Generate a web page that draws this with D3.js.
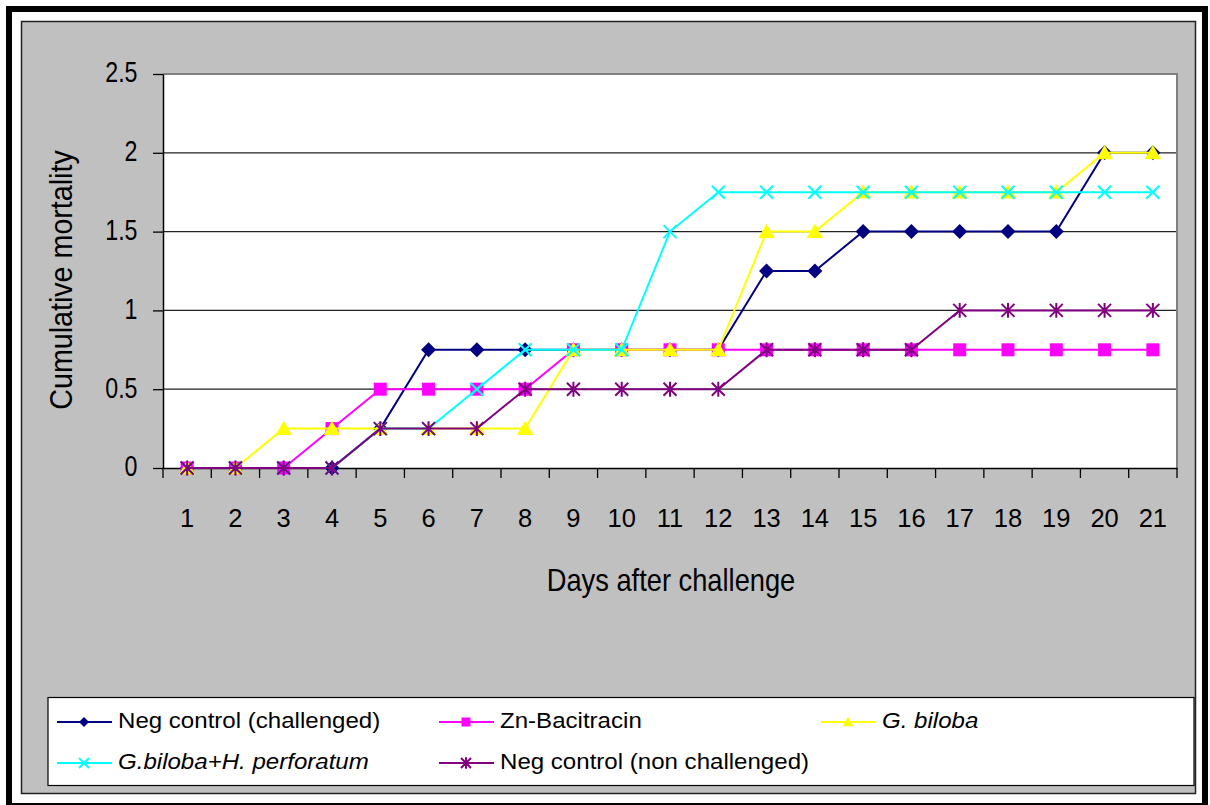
<!DOCTYPE html>
<html>
  <head>
    <title>Cumulative mortality</title>
    <meta charset="UTF-8">
    <script src="https://cdnjs.cloudflare.com/ajax/libs/d3/7.8.5/d3.min.js"></script>
  </head>
  <style type="text/css">
    body {
      margin: 0px;
      overflow: hidden;
      background: #fff;
    }
    text {
      font-family: "Liberation Sans", Arial, sans-serif;
      fill: #000;
    }
  </style>
  <body>
    <div id="chart"></div>
    <script>
      // values
      const days = [1, 2, 3, 4, 5, 6, 7, 8, 9, 10, 11, 12, 13, 14, 15, 16, 17, 18, 19, 20, 21];
      const negChallenged    = [0, 0, 0, 0, 0.25, 0.75, 0.75, 0.75, 0.75, 0.75, 0.75, 0.75, 1.25, 1.25, 1.5, 1.5, 1.5, 1.5, 1.5, 2, 2];
      const znBacitracin     = [0, 0, 0, 0.25, 0.5, 0.5, 0.5, 0.5, 0.75, 0.75, 0.75, 0.75, 0.75, 0.75, 0.75, 0.75, 0.75, 0.75, 0.75, 0.75, 0.75];
      const gBiloba          = [0, 0, 0.25, 0.25, 0.25, 0.25, 0.25, 0.25, 0.75, 0.75, 0.75, 0.75, 1.5, 1.5, 1.75, 1.75, 1.75, 1.75, 1.75, 2, 2];
      const gBilobaHPerf     = [0, 0, 0, 0, 0.25, 0.25, 0.5, 0.75, 0.75, 0.75, 1.5, 1.75, 1.75, 1.75, 1.75, 1.75, 1.75, 1.75, 1.75, 1.75, 1.75];
      const negNonChallenged = [0, 0, 0, 0, 0.25, 0.25, 0.25, 0.5, 0.5, 0.5, 0.5, 0.5, 0.75, 0.75, 0.75, 0.75, 1, 1, 1, 1, 1];
      const yTicks = [0, 0.5, 1, 1.5, 2, 2.5];
      const yTickLabels = ["0", "0.5", "1", "1.5", "2", "2.5"];
      const seriesNames = ["Neg control (challenged)", "Zn-Bacitracin", "G. biloba", "G.biloba+H. perforatum", "Neg control (non challenged)"];

      const series = [
        {name: seriesNames[0], values: negChallenged, color: "#000080", marker: "diamond", italic: false},
        {name: seriesNames[1], values: znBacitracin, color: "#FF00FF", marker: "square", italic: false},
        {name: seriesNames[2], values: gBiloba, color: "#FFFF00", marker: "triangle", italic: true},
        {name: seriesNames[3], values: gBilobaHPerf, color: "#00FFFF", marker: "cross", italic: true},
        {name: seriesNames[4], values: negNonChallenged, color: "#800080", marker: "star", italic: false}
      ];

      const width = 1210, height = 805;
      const plot = {left: 163, right: 1177, top: 74, bottom: 468};

      const svg = d3.select("#chart").append("svg")
        .attr("width", width)
        .attr("height", height);

      // frames
      svg.append("rect").attr("x", 9).attr("y", 9).attr("width", 1196).attr("height", 797)
        .attr("fill", "#fff").attr("stroke", "#000").attr("stroke-width", 6);
      svg.append("rect").attr("x", 21.5).attr("y", 21.5).attr("width", 1174).attr("height", 772)
        .attr("fill", "#C0C0C0").attr("stroke", "#222").attr("stroke-width", 1.5);

      const x = d3.scaleBand().domain(days).range([plot.left, plot.right]);
      const y = d3.scaleLinear().domain([0, 2.5]).range([plot.bottom, plot.top]);
      const cx = d => x(d) + x.bandwidth() / 2;

      svg.append("rect")
        .attr("x", plot.left).attr("y", plot.top)
        .attr("width", plot.right - plot.left).attr("height", plot.bottom - plot.top)
        .attr("fill", "#fff");

      // gridlines
      svg.append("g").selectAll("line")
        .data(yTicks.filter(t => t > 0 && t < 2.5))
        .enter().append("line")
        .attr("x1", plot.left).attr("x2", plot.right)
        .attr("y1", d => y(d)).attr("y2", d => y(d))
        .attr("stroke", "#222").attr("stroke-width", 1.3);

      // gray top / right border of the plot area
      svg.append("path")
        .attr("d", `M${plot.left},${y(2.5)}H${plot.right}V${plot.bottom}`)
        .attr("fill", "none").attr("stroke", "#808080").attr("stroke-width", 2);

      // y axis
      const yAxis = svg.append("g")
        .attr("transform", `translate(${plot.left},0)`)
        .call(d3.axisLeft(y).tickValues(yTicks).tickSize(10).tickSizeOuter(0)
          .tickFormat((d, i) => yTickLabels[i]));
      yAxis.selectAll("line").attr("stroke", "#000").attr("stroke-width", 1.3);
      yAxis.select(".domain").attr("stroke", "#000").attr("stroke-width", 1.5);
      yAxis.selectAll("text")
        .attr("x", 0).attr("dy", "0.27em")
        .attr("transform", "translate(-25.5,0) scale(0.8,1)")
        .style("font-size", "29px");

      // x axis
      const xAxis = svg.append("g")
        .attr("transform", `translate(0,${plot.bottom})`)
        .call(d3.axisBottom(x).tickSize(0).tickSizeOuter(0));
      xAxis.select(".domain").attr("stroke", "#000").attr("stroke-width", 1.5);
      xAxis.selectAll("text")
        .attr("y", 58.5).attr("dy", 0)
        .style("font-size", "25.5px");
      xAxis.append("g").selectAll("line")
        .data(days.map(d => x(d)).concat([x.range()[1]]))
        .enter().append("line")
        .attr("x1", d => d).attr("x2", d => d)
        .attr("y1", 0).attr("y2", 10)
        .attr("stroke", "#000").attr("stroke-width", 1.3);

      // axis titles
      svg.append("text")
        .attr("transform", "translate(671,590.5) scale(0.88,1)")
        .attr("text-anchor", "middle")
        .style("font-size", "31px")
        .text("Days after challenge");
      svg.append("text")
        .attr("transform", "translate(71.5,280) rotate(-90) scale(0.94,1)")
        .attr("text-anchor", "middle")
        .style("font-size", "30.5px")
        .text("Cumulative mortality");

      // marker shapes
      function marker(g, type, s, color) {
        if (type === "diamond") {
          g.append("path").attr("d", `M0,${-s}L${s},0L0,${s}L${-s},0Z`).attr("fill", color);
        } else if (type === "square") {
          g.append("rect").attr("x", -s).attr("y", -s).attr("width", 2 * s).attr("height", 2 * s).attr("fill", color);
        } else if (type === "triangle") {
          g.append("path").attr("d", `M0,${-s * 1.05}L${s * 1.1},${s * 0.85}L${-s * 1.1},${s * 0.85}Z`).attr("fill", color);
        } else if (type === "cross") {
          g.append("path").attr("d", `M${-s},${-s}L${s},${s}M${-s},${s}L${s},${-s}`)
            .attr("stroke", color).attr("stroke-width", 2).attr("fill", "none");
        } else if (type === "star") {
          g.append("path").attr("d", `M${-s},${-s}L${s},${s}M${-s},${s}L${s},${-s}M0,${-s * 1.15}V${s * 1.15}`)
            .attr("stroke", color).attr("stroke-width", 2).attr("fill", "none");
        }
      }
      const markerSize = {diamond: 7.5, square: 6.5, triangle: 7.5, cross: 6.5, star: 6.5};
      const legendSize = {diamond: 5, square: 4.5, triangle: 5, cross: 5, star: 5};

      // series
      const line = d3.line().x((v, i) => cx(days[i])).y(v => y(v));
      series.forEach(s => {
        const g = svg.append("g");
        g.append("path")
          .attr("d", line(s.values))
          .attr("fill", "none").attr("stroke", s.color).attr("stroke-width", 2);
        s.values.forEach((v, i) => {
          const m = g.append("g").attr("transform", `translate(${cx(days[i])},${y(v)})`);
          marker(m, s.marker, markerSize[s.marker], s.color);
        });
      });

      // legend
      svg.append("rect").attr("x", 48).attr("y", 697.5).attr("width", 1146).attr("height", 88)
        .attr("fill", "#fff").attr("stroke", "#000").attr("stroke-width", 1.2);
      const legendCols = [57, 439, 821];
      const legendRows = [722, 763];
      series.forEach((s, i) => {
        const lx = legendCols[i % 3], ly = legendRows[Math.floor(i / 3)];
        const g = svg.append("g").attr("transform", `translate(${lx},${ly})`);
        g.append("line").attr("x1", 0).attr("x2", 55).attr("y1", 0).attr("y2", 0)
          .attr("stroke", s.color).attr("stroke-width", 2);
        const m = g.append("g").attr("transform", "translate(27,0)");
        marker(m, s.marker, legendSize[s.marker], s.color);
        g.append("text")
          .attr("transform", "translate(61,6) scale(1.12,1)")
          .style("font-size", "21.5px")
          .style("font-style", s.italic ? "italic" : "normal")
          .text(s.name);
      });
    </script>
  </body>
</html>
